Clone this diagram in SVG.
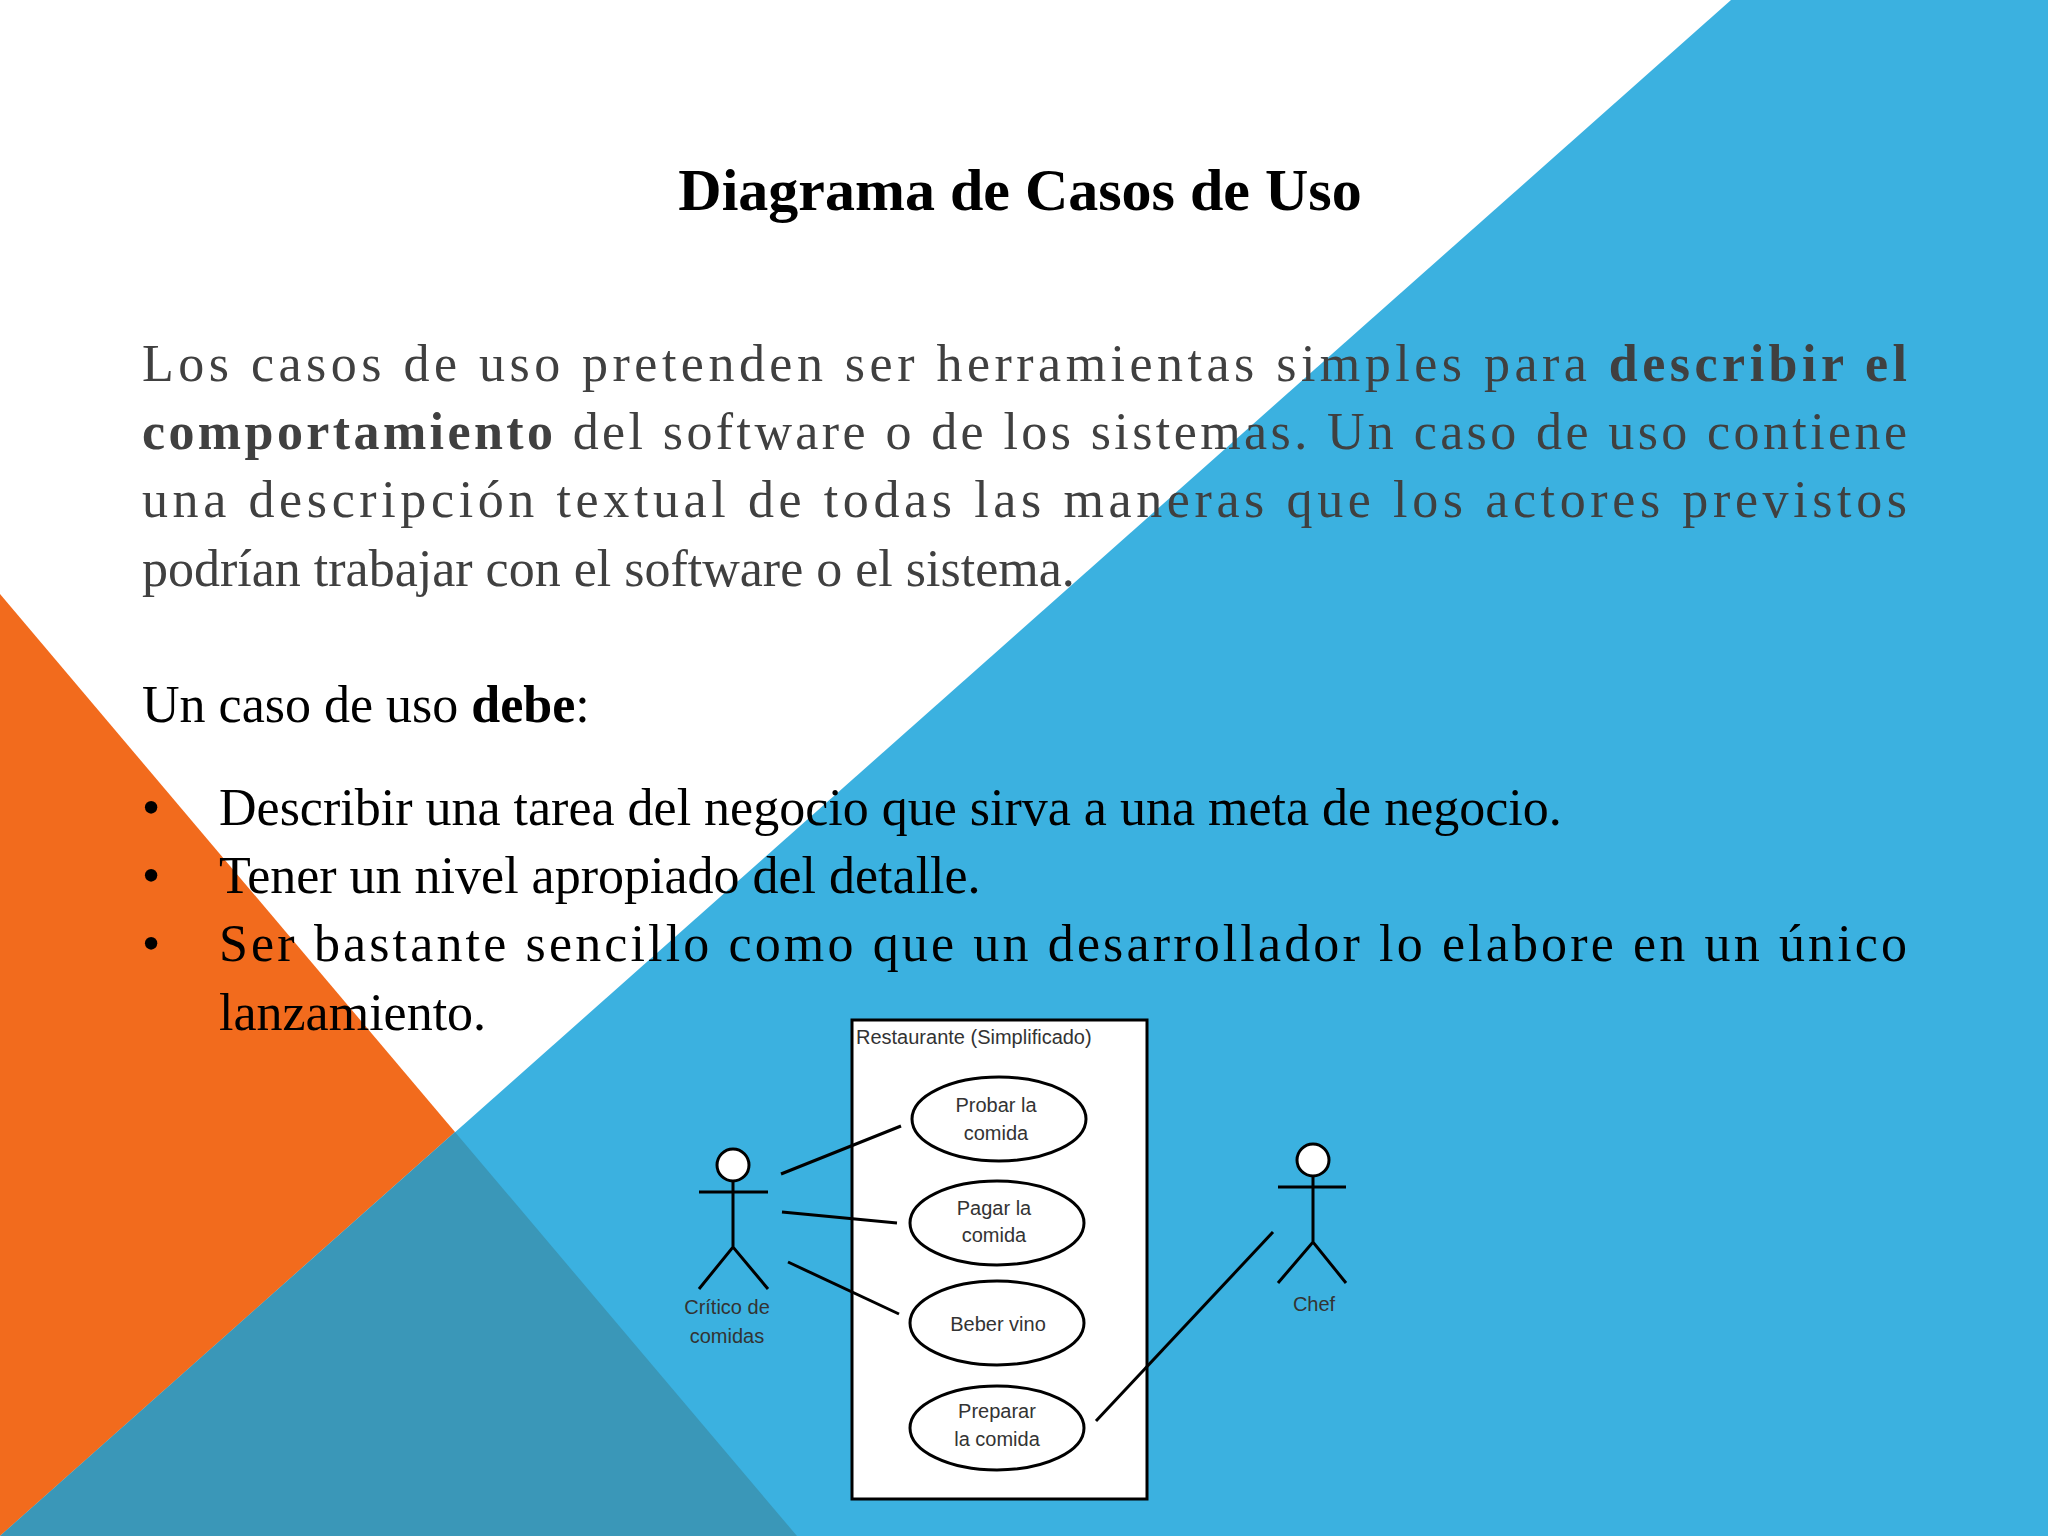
<svg xmlns="http://www.w3.org/2000/svg" width="2048" height="1536" viewBox="0 0 2048 1536">
<style>
.p{font-family:"Liberation Serif",serif;font-size:52px;fill:#404040}
.b{font-family:"Liberation Serif",serif;font-size:52px;fill:#000}
.s{font-family:"Liberation Sans",Arial,sans-serif;font-size:20px;fill:#333;text-anchor:middle}
.ln{stroke:#000;stroke-width:3;fill:none}
.uc{fill:#fff;stroke:#000;stroke-width:3}
</style>
<rect width="2048" height="1536" fill="#fff"/>
<polygon points="1731,0 2048,0 2048,1536 0,1536" fill="#3BB1E0"/>
<polygon points="0,594 455,1132 0,1536" fill="#F26B1D"/>
<polygon points="455,1132 797,1536 0,1536" fill="#3A97B8"/>
<text x="1020" y="210" text-anchor="middle" style="font-family:'Liberation Serif',serif;font-size:60px;font-weight:bold">Diagrama de Casos de Uso</text>
<text class="p" x="142" y="381" textLength="1765" lengthAdjust="spacing">Los casos de uso pretenden ser herramientas simples para <tspan font-weight="bold">describir el</tspan></text>
<text class="p" x="142" y="449" textLength="1765" lengthAdjust="spacing"><tspan font-weight="bold">comportamiento</tspan> del software o de los sistemas. Un caso de uso contiene</text>
<text class="p" x="142" y="517" textLength="1765" lengthAdjust="spacing">una descripción textual de todas las maneras que los actores previstos</text>
<text class="p" x="142" y="586">podrían trabajar con el software o el sistema.</text>
<text class="b" x="142" y="722">Un caso de uso <tspan font-weight="bold">debe</tspan>:</text>
<g class="b">
<text class="b" x="142" y="825">•</text><text class="b" x="219" y="825">Describir una tarea del negocio que sirva a una meta de negocio.</text>
<text class="b" x="142" y="893">•</text><text class="b" x="219" y="893">Tener un nivel apropiado del detalle.</text>
<text class="b" x="142" y="961">•</text><text class="b" x="219" y="961" textLength="1688" lengthAdjust="spacing">Ser bastante sencillo como que un desarrollador lo elabore en un único</text>
<text class="b" x="219" y="1030">lanzamiento.</text>
</g>
<g id="system"><rect x="852" y="1020" width="295" height="479" fill="#fff" stroke="#000" stroke-width="3"/>
<text x="856" y="1044" style="font-family:'Liberation Sans',sans-serif;font-size:20px;fill:#333">Restaurante (Simplificado)</text></g>
<g id="uc1"><ellipse class="uc" cx="999" cy="1119" rx="87" ry="42"/><text class="s" x="996" y="1112">Probar la</text><text class="s" x="996" y="1140">comida</text></g>
<g id="uc2"><ellipse class="uc" cx="997" cy="1223" rx="87" ry="42"/><text class="s" x="994" y="1215">Pagar la</text><text class="s" x="994" y="1242">comida</text></g>
<g id="uc3"><ellipse class="uc" cx="997" cy="1323" rx="87" ry="42"/><text class="s" x="998" y="1331">Beber vino</text></g>
<g id="uc4"><ellipse class="uc" cx="997" cy="1428" rx="87" ry="42"/><text class="s" x="997" y="1418">Preparar</text><text class="s" x="997" y="1446">la comida</text></g>
<g id="critico"><circle cx="733" cy="1165" r="16" fill="#fff" stroke="#000" stroke-width="3"/><path class="ln" d="M733 1181V1247M699 1192H768M699 1289L733 1247L768 1289"/>
<text class="s" x="727" y="1314">Crítico de</text><text class="s" x="727" y="1343">comidas</text></g>
<g id="chef"><circle cx="1313" cy="1160" r="16" fill="#fff" stroke="#000" stroke-width="3"/><path class="ln" d="M1313 1176V1242M1278 1187H1346M1278 1283L1313 1242L1346 1283"/>
<text class="s" x="1314" y="1311">Chef</text></g>
<g id="connectors" class="ln">
<line x1="781" y1="1174" x2="901" y2="1126"/>
<line x1="782" y1="1212" x2="897" y2="1223"/>
<line x1="788" y1="1262" x2="899" y2="1314"/>
<line x1="1273" y1="1232" x2="1096" y2="1421"/>
</g>
</svg>
